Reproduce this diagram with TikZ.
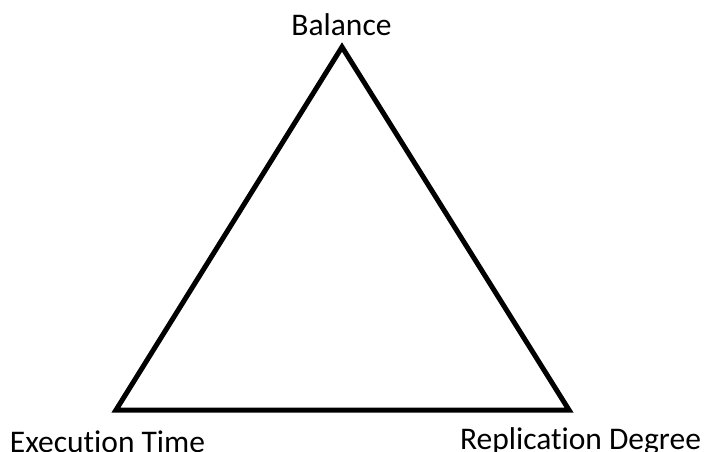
\documentclass[tikz,border=0pt]{standalone}
\usepackage{fontspec}
\setmainfont[Ligatures=NoCommon]{Carlito}
\usetikzlibrary{positioning}

\tikzset{
  corner/.style={font=\fontsize{31.5}{34}\selectfont, anchor=base, inner sep=0pt},
  edge/.style={line width=5pt, line join=miter}
}

\begin{document}
\begin{tikzpicture}[x=1pt,y=-1pt]
  \useasboundingbox (0,0) rectangle (705,452);
  % vertices of the triangle
  \coordinate (top) at (342,47);
  \coordinate (left) at (116,410);
  \coordinate (right) at (569,410);
  \draw[edge] (top) -- (left) -- (right) -- cycle;
  % labels
  \node[corner] (balance) at (341.5,36) {Balance};
  \node[corner] (exectime) at (107.5,452) {Execution Time};
  \node[corner] (repdeg) at (580.5,449) {Replication Degree};
\end{tikzpicture}
\end{document}
